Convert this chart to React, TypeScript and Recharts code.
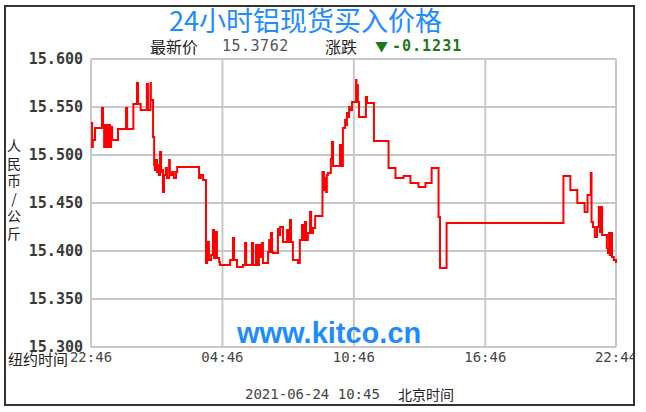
import React from 'react'
import { LineChart, Line, XAxis, YAxis, CartesianGrid } from 'recharts'

// minutes since 22:46 (New York time axis)
const minutes = [
  0, 3, 5, 11, 22, 30, 33, 36, 38, 41, 44, 47, 49, 52, 55, 58, 71, 74, 93, 96, 99, 115, 116, 123, 126, 129,
  134, 136, 151, 153, 156, 162, 163, 164, 168, 170, 173, 175, 178, 181, 184, 186, 189, 192, 194, 197, 200,
  205, 208, 214, 216, 222, 227, 233, 236, 293, 296, 301, 307, 312, 315, 318, 320, 323, 329, 334, 337, 342,
  345, 351, 353, 370, 381, 389, 392, 400, 416, 422, 425, 436, 441, 444, 452, 455, 460, 463, 468, 471, 485,
  488, 490, 493, 496, 498, 512, 515, 518, 526, 534, 537, 540, 545, 548, 553, 567, 572, 578, 581, 586, 589,
  594, 600, 603, 608, 614, 633, 634, 638, 641, 644, 646, 649, 657, 660, 663, 682, 685, 690, 696, 698, 701,
  704, 707, 709, 715, 723, 726, 727, 728, 731, 734, 750, 753, 756, 772, 775, 813, 815, 833, 834, 855, 856,
  874, 875, 896, 897, 915, 916, 931, 933, 950, 952, 956, 972, 974, 1293, 1294, 1312, 1313, 1331, 1332, 1350,
  1352, 1359, 1360, 1367, 1369, 1371, 1375, 1380, 1386, 1391, 1394, 1397, 1400, 1408, 1413, 1416, 1419,
  1421, 1424, 1427, 1432, 1438,
]

// 人民币/公斤
const prices = [
  15.5333, 15.5083, 15.5156, 15.5281, 15.5281, 15.549, 15.5281, 15.5083, 15.5313, 15.5083, 15.5313, 15.5083,
  15.5313, 15.5083, 15.5292, 15.5156, 15.5156, 15.5271, 15.5271, 15.549, 15.5271, 15.5271, 15.5531, 15.5531,
  15.575, 15.5531, 15.5531, 15.5469, 15.5469, 15.574, 15.5469, 15.5469, 15.575, 15.5573, 15.5573, 15.5188,
  15.4896, 15.4844, 15.4948, 15.4823, 15.4896, 15.4792, 15.5031, 15.4823, 15.4844, 15.4615, 15.4792, 15.4865,
  15.476, 15.4948, 15.4792, 15.4823, 15.476, 15.4823, 15.4875, 15.4875, 15.476, 15.4792, 15.474, 15.474,
  15.3875, 15.3927, 15.4094, 15.3906, 15.3958, 15.4219, 15.3927, 15.4198, 15.3927, 15.3885, 15.3854, 15.3854,
  15.3906, 15.4135, 15.3906, 15.3833, 15.3854, 15.4083, 15.3854, 15.3854, 15.4083, 15.3854, 15.4063, 15.3854,
  15.4063, 15.3938, 15.4083, 15.3875, 15.399, 15.4115, 15.399, 15.4188, 15.399, 15.3979, 15.4229, 15.4167,
  15.425, 15.4094, 15.4094, 15.4219, 15.4094, 15.4323, 15.4094, 15.3906, 15.3875, 15.4115, 15.4271, 15.4115,
  15.4302, 15.4115, 15.4188, 15.4406, 15.4188, 15.424, 15.4365, 15.4365, 15.4823, 15.4635, 15.476, 15.4615,
  15.4792, 15.4813, 15.4958, 15.5135, 15.4885, 15.5104, 15.4885, 15.5281, 15.5365, 15.5313, 15.5438, 15.5396,
  15.55, 15.5469, 15.5552, 15.5552, 15.5781, 15.5552, 15.5729, 15.5552, 15.5396, 15.5396, 15.5604, 15.5542,
  15.5542, 15.5146, 15.5146, 15.4865, 15.4865, 15.476, 15.476, 15.4781, 15.4781, 15.4708, 15.4708, 15.4667,
  15.4667, 15.4708, 15.4708, 15.4865, 15.4865, 15.4354, 15.3823, 15.3823, 15.4292, 15.4292, 15.4781, 15.4781,
  15.4635, 15.4635, 15.45, 15.45, 15.4406, 15.4406, 15.4583, 15.4583, 15.4813, 15.4302, 15.425, 15.4146,
  15.425, 15.4458, 15.4198, 15.4458, 15.4167, 15.4167, 15.4031, 15.3979, 15.4188, 15.3958, 15.4188, 15.3938,
  15.3906, 15.3875,
]

const xTicks = [0, 360, 720, 1080, 1438]
const xTickLabels = ['22:46', '04:46', '10:46', '16:46', '22:44']
const yTicks = [15.3, 15.35, 15.4, 15.45, 15.5, 15.55, 15.6]

const data = minutes.map((t, i) => ({ t, price: prices[i] }))

const mono = '"DejaVu Sans Mono", "Liberation Mono", monospace'
const cjk = '"Noto Sans CJK SC", sans-serif'

function XTick({ x, y, payload }: any) {
  const idx = xTicks.indexOf(payload.value)
  return (
    <text x={x} y={y + 15} textAnchor="middle" fill="#444" fontSize={14} fontFamily={mono}>
      {xTickLabels[idx]}
    </text>
  )
}

export default function App() {
  return (
    <div style={{ position: 'absolute', left: 0, top: 0, width: 646, height: 412, background: '#fff', fontFamily: cjk }}>
      <LineChart width={634} height={412} data={data} margin={{ top: 59, right: 18, bottom: 35, left: 5 }}>
        <CartesianGrid stroke="#c8c8c8" strokeWidth={2} />
        <XAxis
          dataKey="t"
          type="number"
          domain={[0, 1438]}
          ticks={xTicks}
          axisLine={false}
          tickLine={false}
          tickSize={0}
          tickMargin={0}
          height={30}
          tick={<XTick />}
          interval={0}
        />
        <YAxis
          type="number"
          domain={[15.3, 15.6]}
          ticks={yTicks}
          allowDataOverflow
          axisLine={false}
          tickLine={false}
          tickSize={0}
          tickMargin={8}
          width={86}
          interval={0}
          tickFormatter={(v: number) => v.toFixed(3)}
          tick={{ fill: '#3a3a3a', fontSize: 15, fontFamily: mono, fontWeight: 'bold' }}
        />
        <Line
          dataKey="price"
          type="stepAfter"
          stroke="#ff0000"
          strokeWidth={2}
          dot={false}
          isAnimationActive={false}
        />
      </LineChart>

      <div style={{ position: 'absolute', left: 169, top: 5, fontSize: 27, color: '#1e8cff', whiteSpace: 'nowrap', lineHeight: '30px' }}>
        24小时铝现货买入价格
      </div>
      <div style={{ position: 'absolute', top: 37, left: 0, height: 18, lineHeight: '18px', whiteSpace: 'nowrap' }}>
        <span style={{ position: 'absolute', left: 150, fontSize: 16, color: '#222' }}>最新价</span>
        <span style={{ position: 'absolute', left: 222, fontSize: 15, color: '#555', fontFamily: mono, letterSpacing: 0.5 }}>15.3762</span>
        <span style={{ position: 'absolute', left: 325, fontSize: 16, color: '#222' }}>涨跌</span>
        <span style={{ position: 'absolute', left: 375, fontSize: 13, color: '#1a7a1a' }}>▼</span>
        <span style={{ position: 'absolute', left: 392, fontSize: 15, color: '#1a7a1a', fontFamily: mono, fontWeight: 'bold', letterSpacing: 1 }}>-0.1231</span>
      </div>

      <div style={{ position: 'absolute', left: 6, top: 137, width: 16, fontSize: 14, lineHeight: '17.5px', textAlign: 'center', color: '#222' }}>
        {'人民币/公斤'.split('').map((c, i) => (
          <div key={i} style={{ height: 17.5 }}>{c}</div>
        ))}
      </div>

      <div style={{ position: 'absolute', left: 8, top: 350, fontSize: 15, color: '#222', lineHeight: '18px' }}>纽约时间</div>

      <div style={{ position: 'absolute', left: 237, top: 316, fontSize: 29, fontWeight: 'bold', color: '#1e8cff', fontFamily: '"Liberation Sans", Arial, sans-serif', lineHeight: '34px' }}>
        www.kitco.cn
      </div>

      <div style={{ position: 'absolute', top: 384, left: 0, lineHeight: '20px', whiteSpace: 'nowrap' }}>
        <span style={{ position: 'absolute', left: 245, fontSize: 14, color: '#444', fontFamily: mono }}>2021-06-24 10:45</span>
        <span style={{ position: 'absolute', left: 398, fontSize: 14, color: '#222' }}>北京时间</span>
      </div>

      <div style={{ position: 'absolute', left: 4, top: 5, width: 631, height: 401, border: '2px solid #333', boxSizing: 'border-box', pointerEvents: 'none' }} />
    </div>
  )
}
